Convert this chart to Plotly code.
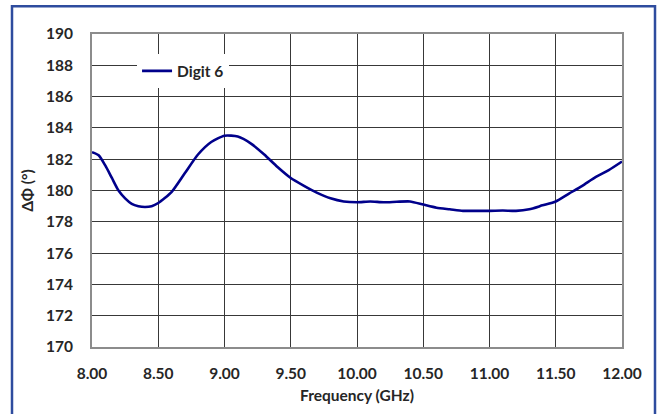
import plotly.graph_objects as go

freq = [8.00, 8.05, 8.10, 8.15, 8.20, 8.25, 8.30, 8.35, 8.40, 8.45, 8.50, 8.60, 8.70, 8.80, 8.90,
        9.00, 9.10, 9.20, 9.30, 9.40, 9.50, 9.60, 9.70, 9.80, 9.90, 10.00, 10.10, 10.20, 10.30,
        10.40, 10.50, 10.60, 10.70, 10.80, 10.90, 11.00, 11.10, 11.20, 11.30, 11.40, 11.50,
        11.60, 11.70, 11.80, 11.90, 12.00]
phase = [182.45, 182.25, 181.6, 180.8, 180.0, 179.5, 179.15, 179.0, 178.95, 179.0, 179.2, 179.9,
         181.1, 182.3, 183.1, 183.5, 183.45, 183.0, 182.3, 181.5, 180.8, 180.3, 179.85, 179.5,
         179.3, 179.25, 179.3, 179.25, 179.28, 179.3, 179.1, 178.9, 178.8, 178.7, 178.7, 178.7,
         178.72, 178.7, 178.8, 179.05, 179.3, 179.8, 180.3, 180.85, 181.3, 181.85]
x_ticks = [8.0, 8.5, 9.0, 9.5, 10.0, 10.5, 11.0, 11.5, 12.0]
x_tick_labels = ["8.00", "8.50", "9.00", "9.50", "10.00", "10.50", "11.00", "11.50", "12.00"]
y_ticks = list(range(170, 191, 2))

FONT = "Lato"
FS = 15.5
TXT = "#262626"

fig = go.Figure()
fig.add_trace(go.Scatter(x=freq, y=phase, mode="lines", name="Digit 6",
                         line=dict(color="#00008B", width=2.6, shape="spline", smoothing=0.6)))

fig.update_layout(
    width=661, height=414,
    margin=dict(l=92, r=39, t=34, b=65),
    paper_bgcolor="white", plot_bgcolor="white",
    font=dict(family=FONT, size=FS, color=TXT),
    showlegend=True,
    legend=dict(x=0.085, y=0.935, xanchor="left", yanchor="top", bgcolor="white",
                font=dict(family=FONT, size=FS, color=TXT, weight="bold"),
                itemwidth=30, tracegroupgap=0),
    xaxis=dict(range=[8, 12], tickvals=x_ticks, ticktext=x_tick_labels,
               showgrid=True, gridcolor="#383838", gridwidth=1,
               showline=True, linecolor="#8c8c8c", linewidth=2, mirror=True,
               ticks="", ticklabelstandoff=11, zeroline=False,
               tickfont=dict(family=FONT, size=FS, color=TXT, weight="bold"),
               title=dict(text="Frequency (GHz)", standoff=10,
                          font=dict(family=FONT, size=FS, color=TXT, weight="bold"))),
    yaxis=dict(range=[170, 190], tickvals=y_ticks,
               showgrid=True, gridcolor="#383838", gridwidth=1,
               showline=True, linecolor="#8c8c8c", linewidth=2, mirror=True,
               ticks="", ticklabelstandoff=14, zeroline=False,
               tickfont=dict(family=FONT, size=FS, color=TXT, weight="bold"),
               title=dict(text="ΔΦ (°)", standoff=8,
                          font=dict(family=FONT, size=FS, color=TXT, weight="bold"))),
)

# outer blue frame
fig.add_shape(type="rect", xref="paper", yref="paper",
              x0=(12 - 92) / 530, x1=(655 - 92) / 530,
              y0=(349 - 425) / 315, y1=(349 - 6) / 315,
              line=dict(color="#2E4C9E", width=2.5), fillcolor="rgba(0,0,0,0)", layer="below")

fig.write_html("out.html")
